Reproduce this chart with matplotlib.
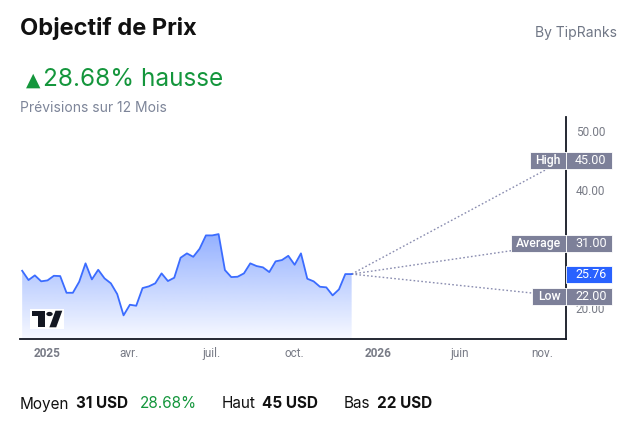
import numpy as np
import pandas as pd
import matplotlib
matplotlib.use("Agg")
import matplotlib.pyplot as plt
from matplotlib.patches import Rectangle, Circle, Polygon
from matplotlib.transforms import blended_transform_factory

# weekly closes
start_date = "2024-12-04"
prices = [26.32, 24.75, 25.54, 24.53, 24.69, 25.47, 25.42, 22.59, 22.59, 24.46,
          27.58, 24.86, 26.49, 25.03, 24.19, 22.37, 18.76, 20.56, 20.39, 23.39,
          23.68, 24.19, 25.88, 24.58, 25.14, 28.53, 29.27, 28.69, 30.05, 32.32,
          32.32, 32.54, 26.44, 25.25, 25.31, 25.88, 27.58, 27.12, 26.90, 26.10,
          27.92, 28.14, 28.86, 27.34, 29.27, 24.97, 24.53, 23.61, 23.51, 22.15,
          23.17, 25.76, 25.76]
current = 25.76
target_names = ["High", "Average", "Low"]
target_values = [45.00, 31.00, 22.00]
target_date = "2026-12-08"

tick_dates = ["2025-01-01", "2025-04-01", "2025-07-01", "2025-10-01",
              "2026-01-01", "2026-06-01", "2026-11-01"]
tick_labels = ["2025", "avr.", "juil.", "oct.", "2026", "juin", "nov."]
# 30.00 sits under the Average label, so it is left out
y_ticks = [20, 40, 50]

base = pd.Timestamp("2025-01-01")
dates = pd.date_range(start_date, periods=len(prices), freq="7D")
days = (dates - base).days.values.astype(float)
tgt_day = float((pd.Timestamp(target_date) - base).days)
tick_days = [(pd.Timestamp(d) - base).days for d in tick_dates]

# TradingView style time scale: history denser than the future part
knot_days = [-1000, 365, 1000]
knot_px = [47.5 - 1000 * 0.905, 47.5 + 365 * 0.905, 47.5 + 365 * 0.905 + 635 * 0.542]


def fwd(d):
    return np.interp(d, knot_days, knot_px)


def inv(p):
    return np.interp(p, knot_px, knot_days)


W, H = 639, 426
fig = plt.figure(figsize=(W / 100, H / 100), dpi=100)
ax = fig.add_axes([20 / W, (H - 339) / H, (566 - 20) / W, (339 - 117) / H])
ax.set_xscale("function", functions=(fwd, inv))

ymin, ymax = 14.75, 52.4

# gradient area under the line
top = (max(prices) - ymin) / (ymax - ymin)
grad = np.zeros((256, 1, 4))
alpha = np.linspace(0.04, 0.5, 256)
grad[:, 0, 0] = 41 / 255
grad[:, 0, 1] = 98 / 255
grad[:, 0, 2] = 1.0
grad[:, 0, 3] = alpha
im = ax.imshow(grad, extent=(0, 1, 0, top), transform=ax.transAxes,
               aspect="auto", origin="lower", zorder=1)
fill = ax.fill_between(days, prices, ymin, facecolor="none", edgecolor="none")
im.set_clip_path(fill.get_paths()[0], ax.transData)

ax.plot(days, prices, color="#3b6cff", lw=1.3, zorder=3)

for v in target_values:
    ax.plot([days[-1], tgt_day], [current, v], color="#8a8db0", lw=1,
            ls=(0, (1.2, 1.6)), zorder=2)

ax.set_xlim(-30.4, 712)
ax.set_ylim(ymin, ymax)

ax.set_xticks(tick_days)
ax.set_xticklabels(tick_labels)
for lab in ax.get_xticklabels():
    if lab.get_text().isdigit():
        lab.set_fontweight("bold")
ax.set_yticks(y_ticks)
ax.set_yticklabels([f"{v:.2f}" for v in y_ticks])
ax.yaxis.tick_right()
ax.tick_params(axis="both", length=0, colors="#787b86", labelsize=8.5)
ax.tick_params(axis="y", pad=7)
ax.tick_params(axis="x", pad=6)
for lab in ax.get_xticklabels() + ax.get_yticklabels():
    lab.set_family("Roboto")

for s in ["left", "top"]:
    ax.spines[s].set_visible(False)
for s in ["bottom", "right"]:
    ax.spines[s].set_color("#131722")
    ax.spines[s].set_linewidth(1.3)

# price labels on the right scale
trans = blended_transform_factory(ax.transAxes, ax.transData)
half = 8.5 * (ymax - ymin) / 222
right_w = 46 / 546
left_w = {"High": 36 / 546, "Average": 55 / 546, "Low": 34 / 546}
box_col = "#7d8099"
for name, v in zip(target_names, target_values):
    ax.add_patch(Rectangle((1, v - half), right_w, 2 * half, transform=trans,
                           facecolor=box_col, edgecolor="white", lw=0.6,
                           clip_on=False, zorder=5))
    ax.text(1 + 9 / 546, v, f"{v:.2f}", transform=trans, ha="left", va="center",
            color="white", fontsize=9, family="Roboto", zorder=6)
    lw_ = left_w[name]
    ax.add_patch(Rectangle((1 - lw_, v - half), lw_, 2 * half, transform=trans,
                           facecolor=box_col, edgecolor="white", lw=0.6,
                           clip_on=False, zorder=5))
    ax.text(1 - lw_ / 2, v, name, transform=trans, ha="center", va="center",
            color="white", fontsize=8.8, family="Roboto", fontweight="medium",
            zorder=6)

ax.add_patch(Rectangle((1, current - half), right_w, 2 * half, transform=trans,
                       facecolor="#2962ff", edgecolor="white", lw=0.6,
                       clip_on=False, zorder=5))
ax.text(1 + 9 / 546, current, f"{current:.2f}", transform=trans, ha="left",
        va="center", color="white", fontsize=9, family="Roboto", zorder=6)


def fx(x):
    return x / W


def fy(y):
    return 1 - y / H


# TradingView logo
fig.add_artist(Rectangle((fx(30), fy(329)), 34 / W, 20 / H, transform=fig.transFigure,
                         facecolor="white", edgecolor="none"))
fig.add_artist(Rectangle((fx(31.7), fy(316)), 13.3 / W, 5.3 / H, transform=fig.transFigure,
                         facecolor="#131722", edgecolor="none"))
fig.add_artist(Rectangle((fx(38.3), fy(327.3)), 6.7 / W, 16.6 / H, transform=fig.transFigure,
                         facecolor="#131722", edgecolor="none"))
fig.add_artist(Circle((fx(49.5), fy(314)), 3.2 / W, transform=fig.transFigure,
                      facecolor="#131722", edgecolor="none"))
fig.add_artist(Polygon([(fx(55.5), fy(310.7)), (fx(62.3), fy(310.7)),
                        (fx(56.2), fy(327.3)), (fx(49.4), fy(327.3))],
                       transform=fig.transFigure, facecolor="#131722", edgecolor="none"))

# header
fig.text(fx(20), fy(29), "Objectif de Prix", fontsize=17, fontweight="bold",
         color="#111111", family="Inter", va="center")
fig.text(fx(617), fy(33), "By TipRanks", fontsize=10, color="#6f7685",
         family="Inter", ha="right", va="center")
fig.text(fx(25.5), fy(80.5), "▲", fontsize=13.5, color="#14963c", family="DejaVu Sans",
         va="center")
fig.text(fx(43), fy(80), "28.68% hausse", fontsize=17.5, color="#14963c",
         family="Inter", va="center")
fig.text(fx(20), fy(108), "Prévisions sur 12 Mois", fontsize=10, color="#7d8599",
         family="Inter", va="center")

# footer
fy_b = fy(404)
fig.text(fx(20), fy_b, "Moyen", fontsize=11, color="#111111", family="Inter", va="center")
fig.text(fx(76), fy_b, "31 USD", fontsize=11, color="#111111", family="Inter",
         fontweight="bold", va="center")
fig.text(fx(140), fy_b, "28.68%", fontsize=11, color="#14963c", family="Inter", va="center")
fig.text(fx(222), fy_b, "Haut", fontsize=11, color="#111111", family="Inter", va="center")
fig.text(fx(262), fy_b, "45 USD", fontsize=11, color="#111111", family="Inter",
         fontweight="bold", va="center")
fig.text(fx(344), fy_b, "Bas", fontsize=11, color="#111111", family="Inter", va="center")
fig.text(fx(377), fy_b, "22 USD", fontsize=11, color="#111111", family="Inter",
         fontweight="bold", va="center")

fig.savefig("out.png", dpi=100)
